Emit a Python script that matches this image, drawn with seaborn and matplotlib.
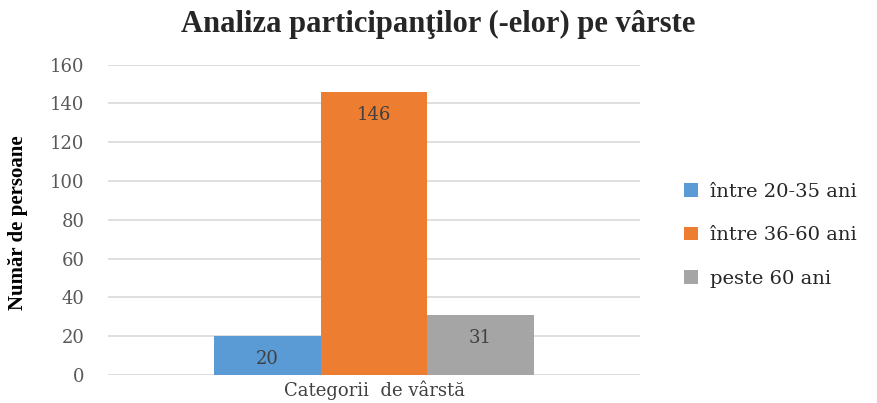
import matplotlib
matplotlib.use("Agg")
import matplotlib.pyplot as plt
import seaborn as sns
import pandas as pd

category = ["Categorii  de vârstă"]
groups = ["între 20-35 ani", "între 36-60 ani", "peste 60 ani"]
counts = [20, 146, 31]
colors = ["#5B9BD5", "#ED7D31", "#A5A5A5"]

df = pd.DataFrame({
    "cat": category * len(groups),
    "grupa": groups,
    "n": counts,
})

sns.set_style("white")
plt.rcParams['font.family'] = ['DejaVu Serif']

fig = plt.figure(figsize=(8.77, 4.03), dpi=100)
ax = fig.add_axes([0.123, 0.0695, 0.607, 0.77])

sns.barplot(data=df, x="cat", y="n", hue="grupa", palette=colors,
            width=0.6, gap=0, saturation=1, linewidth=0, ax=ax, zorder=3)

for c in ax.containers:
    ax.bar_label(c, padding=-23, color="#404040", fontsize=13)

ax.set_ylim(0, 160)
ax.set_yticks(range(0, 161, 20))
ax.yaxis.grid(True, color="#d9d9d9", linewidth=1.2, zorder=0)
for s in ax.spines.values():
    s.set_visible(False)
ax.tick_params(axis="y", length=0, labelsize=13, colors="#595959", pad=17)
ax.tick_params(axis="x", length=0, labelsize=13, colors="#404040", pad=4)
ax.set_xlabel("")
ax.set_ylabel("Număr de persoane", fontsize=15, fontweight="bold", color="black",
              family="Liberation Serif")
ax.yaxis.set_label_coords(-0.15, 0.49)

fig.suptitle("Analiza participanţilor (-elor) pe vârste", fontsize=22,
             fontweight="bold", x=0.5, y=0.975, family="Liberation Serif")

leg = ax.legend(loc="center left", bbox_to_anchor=(1.05, 0.45), frameon=False,
                fontsize=14, labelspacing=1.3, handlelength=0.7, handleheight=0.7,
                handletextpad=0.6)
for t in leg.get_texts():
    t.set_color("#262626")

fig.savefig("out.png", dpi=100)
